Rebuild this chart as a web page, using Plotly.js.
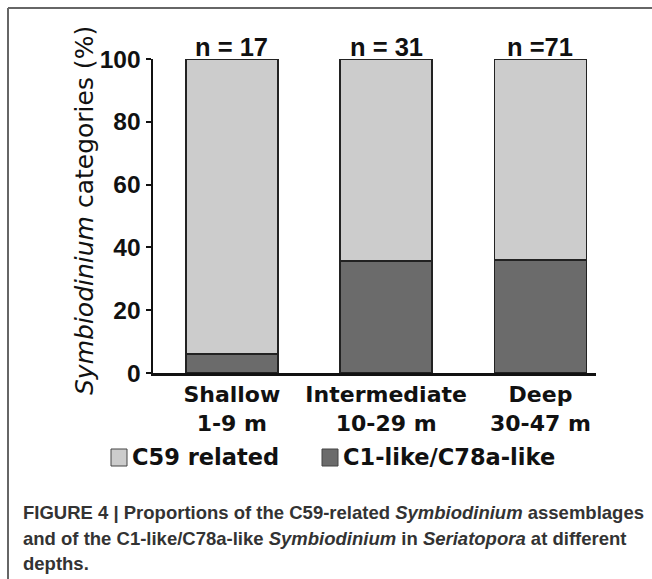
<!DOCTYPE html>
<html>
<head>
<meta charset="utf-8">
<script src="https://cdn.plot.ly/plotly-3.0.1.min.js"></script>
<style>
html,body{margin:0;padding:0;background:#fff;}
#chart{width:652px;height:579px;}
</style>
</head>
<body>
<div id="chart"></div>
<script>
// ---- data ----
var categories = ["Shallow<br>1-9 m", "Intermediate<br>10-29 m", "Deep<br>30-47 m"];
var seriesNames = ["C1-like/C78a-like", "C59 related"];
var c1Values = [6, 35.7, 36];
var c59Values = [94, 64.3, 64];
var nLabels = ["n = 17", "n = 31", "n =71"];
var yTicks = [0, 20, 40, 60, 80, 100];
var yTitle = "<i>Symbiodinium</i> categories (%)";
var captionLines = [
  "FIGURE 4 | Proportions of the C59-related <i>Symbiodinium</i> assemblages",
  "and of the C1-like/C78a-like <i>Symbiodinium</i> in <i>Seriatopora</i> at different",
  "depths."
];

// ---- layout helpers ----
var W = 652, H = 579;
var L = 153, R = 596, T = 59, B = 373;
function px(x){ return (x - L) / (R - L); }
function py(y){ return (B - y) / (B - T); }

var colDark = "#6b6b6b", colLight = "#cccccc", edge = "#222222";
var idx = categories.map(function(_, i){ return i; });

var traces = [
  {type: "bar", x: idx, y: c1Values, name: seriesNames[0],
   marker: {color: colDark, line: {color: edge, width: 1.5}}, width: 0.596, hoverinfo: "none"},
  {type: "bar", x: idx, y: c59Values, name: seriesNames[1],
   marker: {color: colLight, line: {color: edge, width: 1.5}}, width: 0.596, hoverinfo: "none"}
];

var annotations = [];
nLabels.forEach(function(t, i){
  annotations.push({x: i, y: 100, xref: "x", yref: "y", text: t, showarrow: false,
    yanchor: "bottom", xanchor: "center", yshift: -4,
    font: {family: "Liberation Sans, Arial, sans-serif", size: 25.5, color: "#111", weight: "bold"}});
});
annotations.push({x: px(84), y: py(211), xref: "paper", yref: "paper", text: yTitle,
  showarrow: false, textangle: -90, xanchor: "center", yanchor: "middle",
  font: {family: "DejaVu Sans, sans-serif", size: 25, color: "#111"}});

// legend (custom): square + label
var legendItems = [
  {name: seriesNames[1], color: colLight, x0: 111, x1: 127, tx: 130},
  {name: seriesNames[0], color: colDark, x0: 322, x1: 338, tx: 341}
];
var shapes = [];
legendItems.forEach(function(it){
  shapes.push({type: "rect", xref: "paper", yref: "paper",
    x0: px(it.x0), x1: px(it.x1), y0: py(466), y1: py(449),
    fillcolor: it.color, line: {color: "#444", width: 1}});
  annotations.push({x: px(it.tx), y: py(457), xref: "paper", yref: "paper", text: it.name,
    showarrow: false, xanchor: "left", yanchor: "middle",
    font: {family: "DejaVu Sans, sans-serif", size: 22.5, color: "#111", weight: "bold"}});
});

// caption
var capY = [512, 538, 563];
captionLines.forEach(function(t, i){
  annotations.push({x: px(21), y: py(capY[i]), xref: "paper", yref: "paper", text: t,
    showarrow: false, xanchor: "left", yanchor: "middle",
    font: {family: "Liberation Sans, Arial, sans-serif", size: 18.5, color: "#333", weight: "bold"}});
});

// frame lines
shapes.push({type: "line", xref: "paper", yref: "paper", x0: px(8), x1: px(652), y0: py(8), y1: py(8),
  line: {color: "#666", width: 2}});
shapes.push({type: "line", xref: "paper", yref: "paper", x0: px(8), x1: px(8), y0: py(8), y1: py(579),
  line: {color: "#666", width: 2}});

var layout = {
  width: W, height: H,
  margin: {l: L, r: W - R, t: T, b: H - B, pad: 0},
  paper_bgcolor: "#fff", plot_bgcolor: "#fff",
  barmode: "stack",
  showlegend: false,
  xaxis: {range: [-0.511, 2.36], tickvals: idx, ticktext: categories,
    showline: true, linecolor: "#111", linewidth: 2.5, ticks: "", showgrid: false, zeroline: false,
    tickfont: {family: "DejaVu Sans, sans-serif", size: 22, color: "#111", weight: "bold"}, fixedrange: true},
  yaxis: {range: [0, 100], tickvals: yTicks, showline: true, linecolor: "#111", linewidth: 2.5,
    ticks: "outside", ticklen: 5, tickwidth: 2, tickcolor: "#111", showgrid: false, zeroline: false,
    tickfont: {family: "Liberation Sans, Arial, sans-serif", size: 24.5, color: "#111", weight: "bold"}, fixedrange: true},
  annotations: annotations,
  shapes: shapes
};

Plotly.newPlot("chart", traces, layout, {displayModeBar: false, staticPlot: true});
</script>
</body>
</html>
